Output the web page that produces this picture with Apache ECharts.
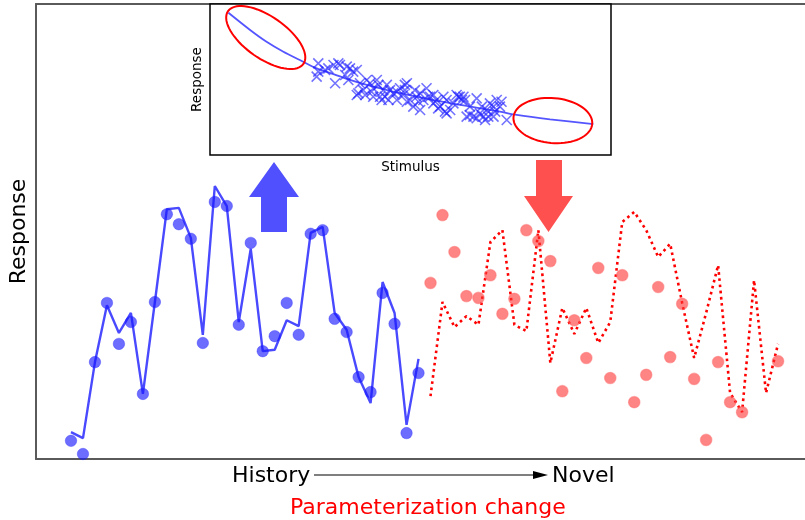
<!DOCTYPE html>
<html>
<head>
<meta charset="utf-8">
<script src="https://cdn.jsdelivr.net/npm/echarts@6/dist/echarts.min.js"></script>
<style>
  html, body { margin: 0; padding: 0; background: #ffffff; }
  #chart { width: 805px; height: 520px; }
</style>
</head>
<body>
<div id="chart"></div>
<script>
// Response over time: fitted history (steps 0-29) and novel regime (steps 30-59)
const historyFit = [5.9, 4.6, 21.3, 33.8, 27.7, 32.1, 14.3, 34.5, 54.9, 55.2,
  48.6, 27.3, 60.0, 55.6, 30.1, 46.2, 23.7, 24.0, 30.5, 29.2,
  49.7, 51.0, 32.1, 28.4, 18.0, 12.3, 38.9, 32.1, 7.5, 22.0];
const historyObserved = [4.0, 1.1, 21.3, 34.3, 25.3, 30.1, 14.3, 34.5, 53.8, 51.6,
  48.4, 25.5, 56.5, 55.6, 29.5, 47.5, 23.7, 27.0, 34.3, 27.3,
  49.5, 50.3, 30.8, 27.9, 18.0, 14.7, 36.5, 29.7, 5.7, 18.9];
const novelFit = [13.8, 34.5, 29.0, 31.4, 29.5, 47.7, 50.3, 29.5, 28.1, 50.3,
  21.1, 33.2, 27.5, 33.2, 25.5, 30.1, 52.1, 54.3, 50.3, 44.4,
  47.3, 34.3, 22.2, 32.1, 42.6, 14.5, 10.3, 39.3, 14.5, 25.3];
const novelObserved = [38.7, 53.6, 45.5, 35.8, 35.4, 40.4, 31.9, 35.2, 50.3, 47.9,
  43.5, 14.9, 30.5, 22.2, 42.0, 17.8, 40.4, 12.5, 18.5, 37.8,
  22.4, 34.1, 17.6, 4.2, 21.3, 12.5, 10.3, null, null, 21.5];
const novelStart = historyFit.length;

// Inset: stimulus-response relation and the samples it was fitted on
const curveStimulus = [0.46, 1.00, 1.41, 1.83, 2.24, 2.66, 3.08, 3.49, 3.91, 4.74, 5.57, 6.40, 7.23, 7.65, 8.48, 9.56];
const curveResponse = [9.42, 8.28, 7.50, 6.84, 6.29, 5.74, 5.36, 4.97, 4.64, 4.09, 3.64, 3.25, 2.87, 2.65, 2.36, 2.05];
const sampleStimulus = [2.70, 2.66, 2.87, 3.08, 3.12, 3.24, 3.41, 3.37, 3.45, 3.57,
  3.66, 3.70, 3.82, 3.91, 3.99, 4.07, 4.16, 4.24, 4.32, 4.41,
  4.49, 4.57, 4.66, 4.74, 4.82, 4.91, 4.99, 5.07, 5.15, 5.24,
  5.32, 5.40, 5.49, 5.57, 5.65, 5.74, 5.82, 5.90, 5.99, 6.07,
  6.15, 6.23, 6.32, 6.40, 6.48, 6.57, 6.65, 6.73, 6.82, 6.90,
  6.98, 7.07, 7.15, 7.23, 7.40, 3.66, 4.07, 4.45, 4.86, 5.24,
  5.57, 5.90, 6.28, 6.65, 6.86, 7.07, 2.70, 2.95, 3.20, 3.49,
  3.74, 3.87, 4.03, 4.20, 4.36, 4.66, 4.86, 5.11, 5.20, 5.44,
  5.69, 5.86, 6.19, 6.36, 6.48, 6.78, 6.94, 7.11, 7.27, 4.91,
  4.28];
const sampleResponse = [6.07, 5.19, 5.63, 5.96, 4.75, 5.96, 5.85, 5.30, 4.97, 5.52,
  5.63, 4.08, 4.30, 4.97, 4.75, 4.42, 4.97, 3.86, 4.30, 4.64,
  4.30, 4.08, 3.64, 4.42, 3.97, 4.75, 3.64, 3.20, 3.86, 4.08,
  3.64, 4.42, 3.86, 3.42, 3.64, 3.20, 3.86, 2.76, 2.98, 3.42,
  3.97, 3.86, 3.86, 2.54, 3.20, 2.54, 3.75, 2.76, 2.54, 2.98,
  3.42, 2.54, 3.64, 3.20, 2.32, 3.97, 3.86, 3.64, 4.64, 2.98,
  3.97, 3.64, 3.64, 2.43, 2.32, 3.20, 5.52, 5.74, 6.07, 5.74,
  4.75, 3.97, 4.19, 4.64, 3.86, 4.19, 4.30, 4.30, 3.53, 3.86,
  3.09, 2.87, 3.86, 3.64, 2.65, 3.20, 2.54, 2.87, 3.53, 3.53,
  3.64];
// Extrapolation regions (centre stimulus, centre response)
const regionStimulus = [1.39, 8.55];
const regionResponse = [7.78, 2.28];

const FONT = 'DejaVu Sans';

const chart = echarts.init(document.getElementById('chart'), null, { renderer: 'canvas' });

const ellipseShape = [
  { rx: 46, ry: 21, angle: 35 },
  { rx: 39.5, ry: 22.5, angle: 5 }
];

function renderEllipse(params, api) {
  const c = api.coord([api.value(0), api.value(1)]);
  const s = ellipseShape[params.dataIndex];
  const th = s.angle * Math.PI / 180;
  const pts = [];
  for (let k = 0; k <= 72; k++) {
    const t = k / 72 * Math.PI * 2;
    const ex = s.rx * Math.cos(t), ey = s.ry * Math.sin(t);
    pts.push([c[0] + ex * Math.cos(th) - ey * Math.sin(th), c[1] + ex * Math.sin(th) + ey * Math.cos(th)]);
  }
  return { type: 'polyline', shape: { points: pts }, style: { fill: 'none', stroke: '#ff0000', lineWidth: 2 } };
}

const frameLine = { show: true, onZero: false, lineStyle: { color: '#5a5a5a', width: 2 } };
const hidden = { axisTick: { show: false }, axisLabel: { show: false }, splitLine: { show: false } };

const option = {
  backgroundColor: '#ffffff',
  animation: false,
  textStyle: { fontFamily: FONT },
  grid: [
    { left: 35, top: 4, right: 0, bottom: 61, show: false },
    { left: 210, top: 4, width: 401, height: 151, show: true, borderColor: '#000000', borderWidth: 1.5, backgroundColor: '#ffffff', z: 5 }
  ],
  xAxis: [
    Object.assign({ gridIndex: 0, type: 'value', min: -2.92, max: 61.25, position: 'bottom', axisLine: frameLine }, hidden),
    Object.assign({ gridIndex: 1, type: 'value', min: 0, max: 10, axisLine: { show: false },
      name: 'Stimulus', nameLocation: 'middle', nameGap: 5, nameTextStyle: { fontFamily: FONT, fontSize: 13.5, color: '#000', verticalAlign: 'top' }, z: 6 }, hidden),
    Object.assign({ gridIndex: 0, type: 'value', min: -2.92, max: 61.25, position: 'top', axisLine: frameLine }, hidden)
  ],
  yAxis: [
    Object.assign({ gridIndex: 0, type: 'value', min: 0, max: 100, position: 'left', axisLine: frameLine,
      name: 'Response', nameLocation: 'middle', nameGap: 6, nameTextStyle: { fontFamily: FONT, fontSize: 22, color: '#000' } }, hidden),
    Object.assign({ gridIndex: 1, type: 'value', min: 0, max: 10, axisLine: { show: false },
      name: 'Response', nameLocation: 'middle', nameGap: 6, nameTextStyle: { fontFamily: FONT, fontSize: 13.5, color: '#000' }, z: 6 }, hidden)
  ],
  series: [
    {
      type: 'line', xAxisIndex: 0, yAxisIndex: 0, z: 3,
      data: historyFit.map((v, i) => [i, v]),
      showSymbol: false, symbol: 'none',
      lineStyle: { color: '#3f3fff', width: 2.4, opacity: 0.95 }
    },
    {
      type: 'scatter', xAxisIndex: 0, yAxisIndex: 0, z: 4,
      data: historyObserved.map((v, i) => [i, v]),
      symbolSize: 11.5,
      itemStyle: { color: 'rgba(25,25,255,0.8)', borderColor: 'rgba(25,25,255,0.4)', borderWidth: 1 }
    },
    {
      type: 'line', xAxisIndex: 0, yAxisIndex: 0, z: 3,
      data: novelFit.map((v, i) => [novelStart + i, v]),
      showSymbol: false, symbol: 'none',
      lineStyle: { color: '#ff0000', width: 2.6, type: [2.6, 3.6], cap: 'butt' }
    },
    {
      type: 'scatter', xAxisIndex: 0, yAxisIndex: 0, z: 4,
      data: novelObserved.map((v, i) => [novelStart + i, v]).filter(d => d[1] !== null),
      symbolSize: 11.5,
      itemStyle: { color: 'rgba(255,50,50,0.75)', borderColor: 'rgba(255,110,110,0.6)', borderWidth: 1.2 }
    },
    {
      type: 'line', xAxisIndex: 1, yAxisIndex: 1, z: 7,
      data: curveStimulus.map((x, i) => [x, curveResponse[i]]),
      smooth: 0.3, showSymbol: false, symbol: 'none',
      lineStyle: { color: '#5555ff', width: 1.8 }
    },
    {
      type: 'scatter', xAxisIndex: 1, yAxisIndex: 1, z: 8,
      data: sampleStimulus.map((x, i) => [x, sampleResponse[i]]),
      symbol: 'path://M0,0L10,10M10,0L0,10', symbolSize: 10,
      itemStyle: { color: 'none', borderColor: 'rgba(35,35,255,0.8)', borderWidth: 1.6 }
    },
    {
      type: 'custom', xAxisIndex: 1, yAxisIndex: 1, z: 9,
      data: regionStimulus.map((x, i) => [x, regionResponse[i]]),
      renderItem: renderEllipse
    }
  ],
  graphic: [
    // regime-shift arrows
    { type: 'polygon', z: 20, shape: { points: [[274, 162], [299, 197], [287, 197], [287, 232], [261, 232], [261, 197], [249, 197]] }, style: { fill: '#5050ff' } },
    { type: 'polygon', z: 20, shape: { points: [[536, 160], [562, 160], [562, 196], [573, 196], [548.5, 232], [524, 196], [536, 196]] }, style: { fill: '#ff5050' } },
    // timeline caption
    { type: 'text', z: 20, left: 232, top: 465, style: { text: 'History', font: '22px "DejaVu Sans"', fill: '#000' } },
    { type: 'text', z: 20, left: 552, top: 465, style: { text: 'Novel', font: '22px "DejaVu Sans"', fill: '#000' } },
    { type: 'line', z: 20, shape: { x1: 314, y1: 475, x2: 538, y2: 475 }, style: { stroke: '#000', lineWidth: 1.2 } },
    { type: 'polygon', z: 20, shape: { points: [[533, 471], [548, 475], [533, 479]] }, style: { fill: '#000' } },
    { type: 'text', z: 20, left: 290, top: 497, style: { text: 'Parameterization change', font: '22px "DejaVu Sans"', fill: '#ff0000' } }
  ]
};

chart.setOption(option);
</script>
</body>
</html>
